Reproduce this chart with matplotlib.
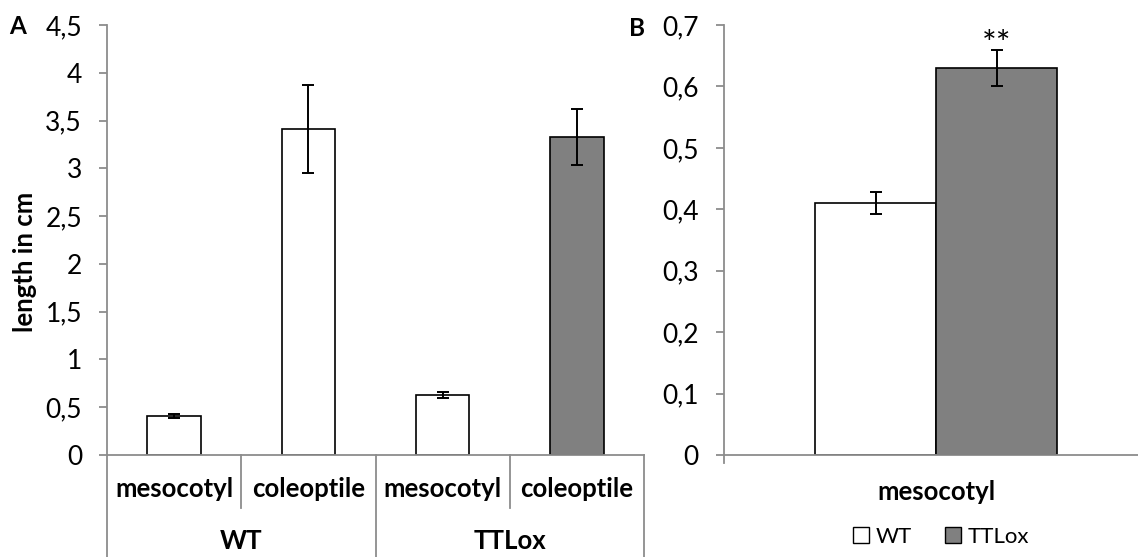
import matplotlib
matplotlib.use("Agg")
import matplotlib.pyplot as plt
from matplotlib.ticker import FuncFormatter, MultipleLocator
from matplotlib.patches import Patch
import matplotlib.transforms as mtransforms

plt.rcParams['font.family'] = ['Lato', 'DejaVu Sans']

# ---- data ----
groups = ["WT", "TTLox"]
tissues = ["mesocotyl", "coleoptile"]
a_values = [0.41, 3.41, 0.63, 3.33]
a_errors = [0.02, 0.46, 0.03, 0.29]
a_colors = ["white", "white", "white", "#808080"]

b_category = "mesocotyl"
b_series = ["WT", "TTLox"]
b_values = [0.41, 0.63]
b_errors = [0.018, 0.03]
b_colors = ["white", "#808080"]
b_signif = ["", "**"]

W, H = 1138, 557
fig = plt.figure(figsize=(W / 100, H / 100), dpi=100)

AXIS_GRAY = "#8c8c8c"
FS = 19
FSB = 18.5

def fmt(v, pos):
    s = f"{v:.2f}".rstrip("0").rstrip(".")
    return s.replace(".", ",")

def style(ax):
    for s in ["top", "right"]:
        ax.spines[s].set_visible(False)
    for s in ["left", "bottom"]:
        ax.spines[s].set_color(AXIS_GRAY)
        ax.spines[s].set_linewidth(1.3)
    ax.tick_params(axis="y", direction="out", length=6.0, width=1.3,
                   color=AXIS_GRAY, labelsize=FS, pad=12)
    ax.tick_params(axis="x", length=0, labelbottom=False)
    ax.yaxis.set_major_formatter(FuncFormatter(fmt))

# ---- panel A ----
y0, y1 = 455, 25
axA = fig.add_axes([107 / W, (H - y0) / H, (644 - 107) / W, (y0 - y1) / H])
style(axA)
xs = list(range(len(a_values)))
axA.bar(xs, a_values, width=0.40, color=a_colors, edgecolor="black", linewidth=1.2, zorder=2)
axA.errorbar(xs, a_values, yerr=a_errors, fmt="none", ecolor="black",
             elinewidth=1.4, capsize=4.3, capthick=1.4, zorder=3)
axA.set_xlim(-0.5, 3.5)
axA.set_ylim(0, 4.5)
axA.yaxis.set_major_locator(MultipleLocator(0.5))
axA.spines["left"].set_bounds(0, 4.5)

hpx = (y0 - y1)
def ay(py):
    return -(py - y0) / hpx

trA = mtransforms.blended_transform_factory(axA.transData, axA.transAxes)
for xv in [-0.5, 1.5, 3.5]:
    axA.plot([xv, xv], [0, ay(557)], transform=trA, color=AXIS_GRAY, lw=1.3, clip_on=False)
for xv in [0.5, 2.5]:
    axA.plot([xv, xv], [0, ay(508)], transform=trA, color=AXIS_GRAY, lw=1.3, clip_on=False)
for i, g in enumerate(groups):
    for j, t in enumerate(tissues):
        axA.text(2 * i + j, ay(489), t, transform=trA, ha="center", va="center",
                 fontsize=FSB, fontweight="bold")
    axA.text(2 * i + 0.5, ay(541), g, transform=trA, ha="center", va="center",
             fontsize=FSB, fontweight="bold")

fig.text(25 / W, 1 - 262 / H, "length in cm", rotation=90, ha="center", va="center",
         fontsize=FSB, fontweight="bold")
fig.text(18 / W, 1 - 27 / H, "A", ha="center", va="center", fontsize=FSB - 1, fontweight="bold")

# ---- panel B ----
axB = fig.add_axes([724 / W, (H - y0) / H, (W - 724) / W, (y0 - y1) / H])
style(axB)
unit = 424.0
axB.set_xlim(-0.5, -0.5 + (W - 724) / unit)
axB.set_ylim(0, 0.7)
axB.yaxis.set_major_locator(MultipleLocator(0.1))
bw = 121 / unit
bx = [-bw / 2, bw / 2]
axB.bar(bx, b_values, width=bw, color=b_colors, edgecolor="black", linewidth=1.2,
        zorder=2, label=None)
axB.errorbar(bx, b_values, yerr=b_errors, fmt="none", ecolor="black",
             elinewidth=1.4, capsize=4.3, capthick=1.4, zorder=3)
for x, v, e, s in zip(bx, b_values, b_errors, b_signif):
    if s:
        axB.text(x, v + e + 0.008, s, ha="center", va="center", fontsize=25)
trB = mtransforms.blended_transform_factory(axB.transData, axB.transAxes)
axB.plot([-0.5, -0.5], [0, ay(463)], transform=trB, color=AXIS_GRAY, lw=1.3, clip_on=False)
axB.text(0, ay(492), b_category, transform=trB, ha="center", va="center",
         fontsize=FSB, fontweight="bold")
fig.text(637 / W, 1 - 28 / H, "B", ha="center", va="center", fontsize=FSB - 1, fontweight="bold")

handles = [Patch(facecolor=c, edgecolor="black", linewidth=1.0) for c in b_colors]
fig.legend(handles, b_series, loc="center", bbox_to_anchor=(941 / W, 1 - 537 / H),
           ncol=2, frameon=False, fontsize=16, handlelength=0.72, handleheight=0.72,
           handletextpad=0.3, columnspacing=1.5)

fig.savefig("out.png", dpi=100)
